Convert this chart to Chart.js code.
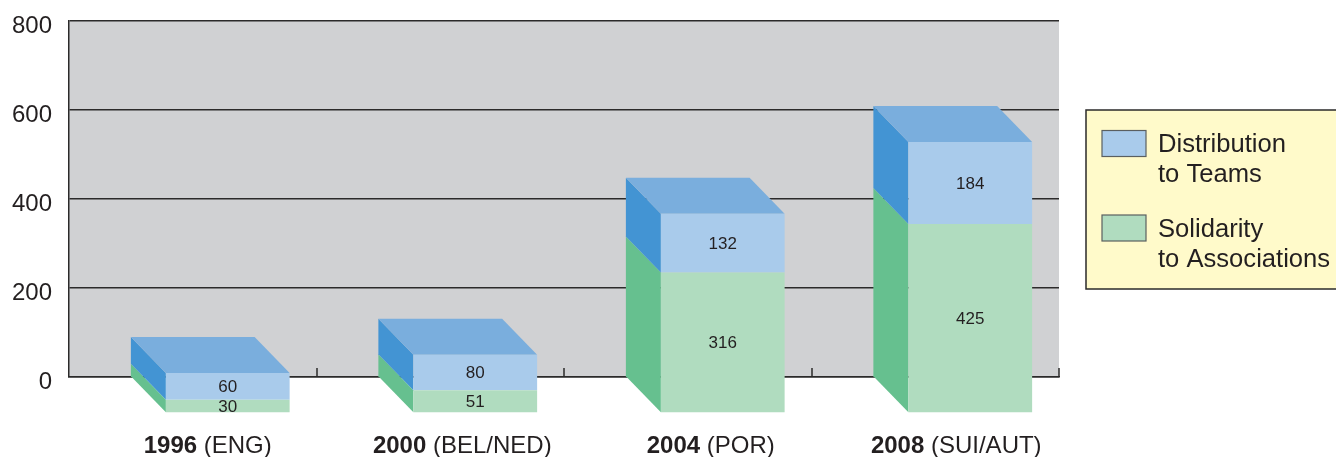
<!DOCTYPE html>
<html><head><meta charset="utf-8">
<style>html,body{margin:0;padding:0;background:#fff;overflow:hidden}canvas{display:block}</style>
<script src="https://cdn.jsdelivr.net/npm/chart.js@4/dist/chart.umd.min.js"></script>
</head><body>
<div style="width:1336px;height:457px"><canvas id="c" width="1336" height="457"></canvas></div>
<script>
const years = ['1996', '2000', '2004', '2008'];
const hosts = ['(ENG)', '(BEL/NED)', '(POR)', '(SUI/AUT)'];
const solidarity = [30, 51, 316, 425];
const distribution = [60, 80, 132, 184];
const legendDistribution = ['Distribution', 'to Teams'];
const legendSolidarity = ['Solidarity', 'to Associations'];
const valueAxisMax = 800;
const valueAxisStep = 200;

const FONT = '"Liberation Sans", Arial, sans-serif';
const INK = '#231f20';
const LINE = '#2b2a2a';
const DX = 35, DY = 36;
const labelShift = [-20, -13, -12, -14];
const faces = [
  {front: '#b0dcbf', side: '#66c08f'},
  {front: '#a9cbeb', side: '#4394d3', top: '#7aaedd'}
];

function poly(ctx, pts, fill) {
  ctx.beginPath();
  pts.forEach((p, i) => i ? ctx.lineTo(p[0], p[1]) : ctx.moveTo(p[0], p[1]));
  ctx.closePath();
  ctx.fillStyle = fill;
  ctx.fill();
}

const box3d = {
  id: 'box3d',
  beforeDraw(chart) {
    const {ctx, chartArea: a} = chart;
    ctx.fillStyle = '#d0d1d3';
    ctx.fillRect(a.left, a.top, a.right - a.left, a.bottom - a.top);
  },
  beforeDatasetsDraw(chart) {
    const ctx = chart.ctx;
    chart.data.datasets.forEach((ds, di) => {
      chart.getDatasetMeta(di).data.forEach(el => {
        const l = el.x - el.width / 2, r = el.x + el.width / 2;
        poly(ctx, [[l, el.y], [l + DX, el.y + DY], [l + DX, el.base + DY], [l, el.base]], faces[di].side);
        if (faces[di].top) {
          poly(ctx, [[l, el.y], [r, el.y], [r + DX, el.y + DY], [l + DX, el.y + DY]], faces[di].top);
        }
      });
    });
  },
  beforeDatasetDraw(chart) {
    chart.ctx.save();
    chart.ctx.translate(DX, DY);
  },
  afterDatasetDraw(chart) {
    chart.ctx.restore();
  },
  afterDatasetsDraw(chart) {
    const {ctx, scales: {x, y}} = chart;
    ctx.save();
    // x tick marks at the category boundaries
    ctx.strokeStyle = LINE;
    ctx.lineWidth = 1.5;
    years.forEach((_, i) => {
      const px = Math.round(x.getPixelForValue(i) + (x.getPixelForValue(1) - x.getPixelForValue(0)) / 2);
      ctx.beginPath();
      ctx.moveTo(px, y.bottom);
      ctx.lineTo(px, y.bottom - 9);
      ctx.stroke();
    });
    // value labels on the front faces
    ctx.fillStyle = INK;
    ctx.textAlign = 'center';
    ctx.textBaseline = 'middle';
    ctx.font = '17px ' + FONT;
    chart.data.datasets.forEach((ds, di) => {
      chart.getDatasetMeta(di).data.forEach((el, i) => {
        ctx.fillText(String(ds.data[i]), el.x + DX, (el.y + el.base) / 2 + DY + 1);
      });
    });
    // y tick labels
    ctx.textAlign = 'right';
    ctx.textBaseline = 'alphabetic';
    ctx.font = '24px ' + FONT;
    y.ticks.forEach(t => ctx.fillText(String(t.value), 52, y.getPixelForValue(t.value) + 12));
    // category labels: bold year + regular host
    ctx.textAlign = 'left';
    years.forEach((yr, i) => {
      const cx = x.getPixelForValue(i) + DX + labelShift[i];
      ctx.font = 'bold 24px ' + FONT;
      const w1 = ctx.measureText(yr + ' ').width;
      ctx.font = '24px ' + FONT;
      const w2 = ctx.measureText(hosts[i]).width;
      const sx = cx - (w1 + w2) / 2;
      ctx.font = 'bold 24px ' + FONT;
      ctx.fillText(yr, sx, 453);
      ctx.font = '24px ' + FONT;
      ctx.fillText(hosts[i], sx + w1, 453);
    });
    // legend box
    ctx.fillStyle = '#fffaca';
    ctx.strokeStyle = LINE;
    ctx.lineWidth = 1.5;
    ctx.fillRect(1086, 110, 252, 179);
    ctx.strokeRect(1086, 110, 252, 179);
    const entries = [
      {lines: legendDistribution, color: faces[1].front, sy: 130.5, base: [152, 182]},
      {lines: legendSolidarity, color: faces[0].front, sy: 215, base: [237, 267]}
    ];
    entries.forEach(e => {
      ctx.fillStyle = e.color;
      ctx.strokeStyle = '#5a5f60';
      ctx.lineWidth = 1.2;
      ctx.fillRect(1102, e.sy, 44, 26);
      ctx.strokeRect(1102, e.sy, 44, 26);
      ctx.fillStyle = INK;
      ctx.font = '25.6px ' + FONT;
      e.lines.forEach((t, k) => ctx.fillText(t, 1158, e.base[k]));
    });
    ctx.restore();
  }
};

new Chart(document.getElementById('c'), {
  type: 'bar',
  data: {
    labels: years,
    datasets: [
      {label: 'Solidarity to Associations', data: solidarity, backgroundColor: faces[0].front, clip: false, barPercentage: 0.5, categoryPercentage: 1},
      {label: 'Distribution to Teams', data: distribution, backgroundColor: faces[1].front, clip: false, barPercentage: 0.5, categoryPercentage: 1}
    ]
  },
  options: {
    responsive: false,
    animation: false,
    layout: {padding: {left: 69, right: 277, top: 21, bottom: 72}},
    plugins: {legend: {display: false}, tooltip: {enabled: false}},
    scales: {
      x: {
        stacked: true,
        grid: {display: false},
        border: {display: true, color: LINE, width: 1.5},
        ticks: {display: false}
      },
      y: {
        stacked: true,
        min: 0,
        max: valueAxisMax,
        grid: {color: LINE, lineWidth: 1.5, drawTicks: false},
        border: {display: true, color: LINE, width: 1.5},
        ticks: {display: false, stepSize: valueAxisStep}
      }
    }
  },
  plugins: [box3d]
});
</script>
</body></html>
